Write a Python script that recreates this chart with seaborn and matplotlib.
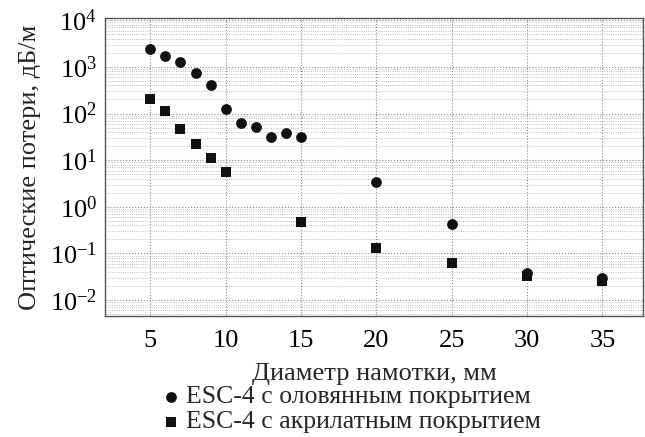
import matplotlib
matplotlib.use("Agg")
import matplotlib.pyplot as plt
import numpy as np
import pandas as pd
import seaborn as sns
from matplotlib.ticker import LogLocator, LogFormatterMathtext, NullFormatter

# bending diameter, mm
tin_d = [5, 6, 7, 8, 9, 10, 11, 12, 13, 14, 15, 20, 25, 30, 35]
tin_loss = [2400, 1700, 1260, 740, 410, 125, 62, 52, 32, 38, 32, 3.4, 0.43, 0.038, 0.030]

acr_d = [5, 6, 7, 8, 9, 10, 15, 20, 25, 30, 35]
acr_loss = [205, 115, 46, 22, 11, 5.6, 0.47, 0.13, 0.063, 0.033, 0.026]

tin_label = "ESC-4 с оловянным покрытием"
acr_label = "ESC-4 с акрилатным покрытием"

sns.set_theme(style="white")
plt.rcParams["font.family"] = ["Liberation Serif", "DejaVu Serif"]
plt.rcParams["mathtext.fontset"] = "custom"
plt.rcParams["mathtext.rm"] = "Liberation Serif"
plt.rcParams["mathtext.it"] = "Liberation Serif:italic"

tin = pd.DataFrame({"d": tin_d, "loss": tin_loss})
acr = pd.DataFrame({"d": acr_d, "loss": acr_loss})

fig = plt.figure(figsize=(6.45, 4.37), dpi=100)
ax = fig.add_axes([0.163, 0.277, 0.834, 0.682])

sns.scatterplot(data=tin, x="d", y="loss", marker="o", s=60, color="#111111",
                edgecolor="#111111", linewidth=0, ax=ax, label=tin_label, zorder=3)
sns.scatterplot(data=acr, x="d", y="loss", marker="s", s=42, color="#111111",
                edgecolor="#111111", linewidth=0, ax=ax, label=acr_label, zorder=3)

ax.set_yscale("log")
ax.set_xlim(2, 37.7)
ax.set_ylim(10 ** -2.34, 10 ** 4.05)
ax.set_xticks([5, 10, 15, 20, 25, 30, 35])
ax.yaxis.set_major_locator(LogLocator(base=10, numticks=10))
ax.yaxis.set_major_formatter(LogFormatterMathtext())
ax.yaxis.set_minor_locator(LogLocator(base=10, subs=np.arange(2, 10), numticks=20))
ax.yaxis.set_minor_formatter(NullFormatter())

ax.grid(which="major", axis="both", linestyle=":", color="#888888", linewidth=0.8)
ax.grid(which="minor", axis="y", linestyle=":", color="#aaaaaa", linewidth=0.6)
ax.tick_params(axis="both", which="major", labelsize=19, length=4, direction="in",
               colors="#333333", labelcolor="black")
ax.tick_params(axis="x", pad=10)
ax.tick_params(axis="y", which="both", length=0, pad=6)
for sp in ax.spines.values():
    sp.set_color("#555555")
    sp.set_linewidth(1.0)

ax.set_xlabel("Диаметр намотки, мм", fontsize=19, labelpad=8)
ax.set_ylabel("Оптические потери, дБ/м", fontsize=19, labelpad=6)

ax.legend_.remove()
handles, labels = ax.get_legend_handles_labels()
fig.legend(handles, labels, loc="upper left", bbox_to_anchor=(0.245, 0.118),
           frameon=False, fontsize=18.5, handletextpad=0.1, labelspacing=0.08,
           handlelength=1.0, borderpad=0, borderaxespad=0)

fig.savefig("out.png", dpi=100)
